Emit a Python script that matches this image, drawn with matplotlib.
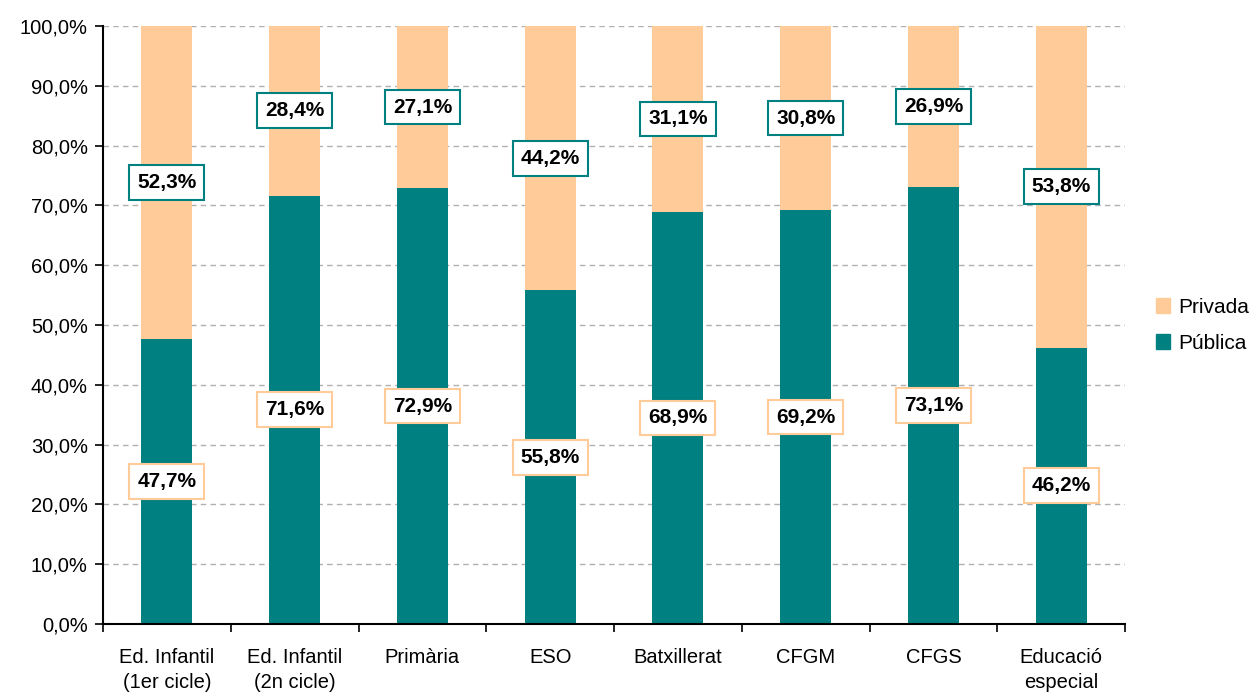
import matplotlib
matplotlib.use("Agg")
import matplotlib.pyplot as plt
import numpy as np
from matplotlib.ticker import FuncFormatter, MultipleLocator
from matplotlib.patches import Patch

plt.rcParams['font.family'] = ['Liberation Sans Narrow', 'Liberation Sans', 'DejaVu Sans']

categories = ["Ed. Infantil\n(1er cicle)", "Ed. Infantil\n(2n cicle)", "Primària", "ESO",
              "Batxillerat", "CFGM", "CFGS", "Educació\nespecial"]
publica = [47.7, 71.6, 72.9, 55.8, 68.9, 69.2, 73.1, 46.2]
privada = [52.3, 28.4, 27.1, 44.2, 31.1, 30.8, 26.9, 53.8]

c_pub = "#008080"
c_priv = "#FFCC99"

fig = plt.figure(figsize=(12.52, 6.95), dpi=100)
ax = fig.add_axes([0.0823, 0.1022, 0.8163, 0.8604])

x = np.arange(len(categories))
ax.bar(x, publica, width=0.4, color=c_pub, zorder=2)
ax.bar(x, privada, width=0.4, bottom=publica, color=c_priv, zorder=2)

def fmt(v):
    return f"{v:.1f}%".replace(".", ",")

for i in range(len(categories)):
    ax.text(x[i], publica[i] / 2, fmt(publica[i]), ha='center', va='center',
            fontsize=15, fontweight='bold', zorder=3,
            bbox=dict(boxstyle='square,pad=0.38', fc='white', ec=c_priv, lw=1.5))
    ax.text(x[i], publica[i] + privada[i] / 2, fmt(privada[i]), ha='center', va='center',
            fontsize=15, fontweight='bold', zorder=3,
            bbox=dict(boxstyle='square,pad=0.38', fc='white', ec=c_pub, lw=1.5))

ax.set_xlim(-0.5, len(categories) - 0.5)
ax.set_ylim(0, 100)
ax.yaxis.set_major_locator(MultipleLocator(10))
ax.yaxis.set_major_formatter(FuncFormatter(lambda v, p: f"{v:.1f}%".replace(".", ",")))
ax.grid(axis='y', color='#b0b0b0', linestyle=(0, (4, 3)), lw=1, zorder=0)

ax.set_xticks(x)
ax.set_xticklabels(categories, fontsize=14.5, linespacing=1.45)
ax.tick_params(axis='x', length=0, pad=17)
ax.set_xticks(np.arange(-0.5, len(categories), 1), minor=True)
ax.tick_params(axis='x', which='minor', length=6, width=1.2, direction='out')
ax.tick_params(axis='y', labelsize=14.5, length=6, width=1.2, direction='out', pad=5)

for s in ['top', 'right']:
    ax.spines[s].set_visible(False)
for s in ['left', 'bottom']:
    ax.spines[s].set_linewidth(1.5)

handles = [Patch(color=c_priv, label='Privada'), Patch(color=c_pub, label='Pública')]
fig.legend(handles=handles, loc='center left', bbox_to_anchor=(0.908, 0.532),
           frameon=False, fontsize=15, handlelength=0.7, handleheight=0.7,
           handletextpad=0.4, labelspacing=0.8)

fig.savefig("out.png", dpi=100)
